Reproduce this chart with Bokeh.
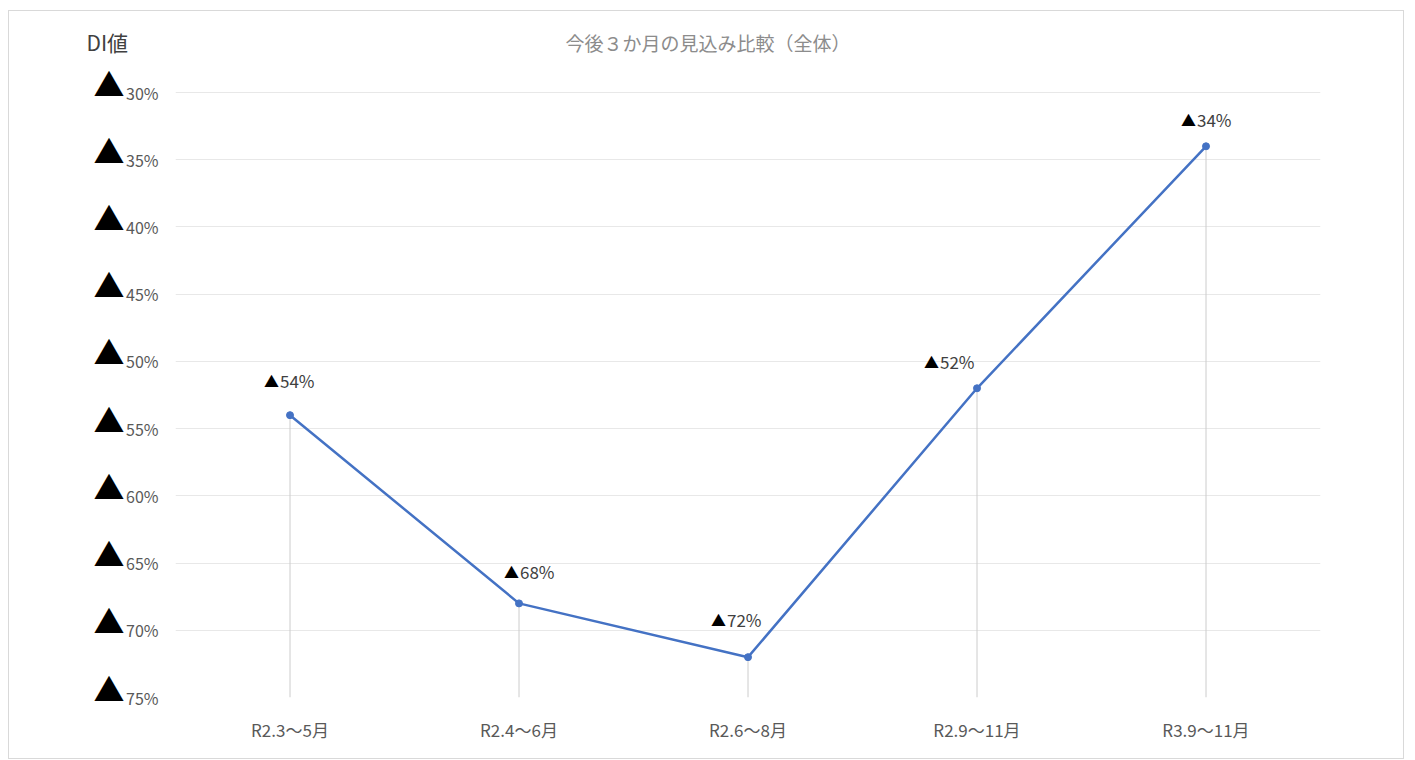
from bokeh.plotting import figure
from bokeh.models import (ColumnDataSource, FactorRange, Range1d, FixedTicker,
                          LinearAxis, Grid, Title)
from bokeh.embed import file_html
from bokeh.resources import INLINE
from bokeh.core.properties import value

# ---------------- data ----------------
categories = ["R2.3～5月", "R2.4～6月", "R2.6～8月", "R2.9～11月", "R3.9～11月"]
di_values = [-54, -68, -72, -52, -34]          # ▲ = negative DI
y_ticks = [-30, -35, -40, -45, -50, -55, -60, -65, -70, -75]
y_tick_labels = ["30%", "35%", "40%", "45%", "50%", "55%", "60%", "65%", "70%", "75%"]
chart_title = "今後３か月の見込み比較（全体）"
y_title = "DI値"
y_min, y_max = -75, -30

# ---------------- layout helpers (pixels / axis units) ----------------
PX_PER_UNIT = 605 / (y_max - y_min)       # ~13.44 px per axis unit
TOP_PAD_UNITS = 51 / PX_PER_UNIT          # frame extends above the 30% line
TRI_SHIFT_UNITS = 10.5 / PX_PER_UNIT      # triangles sit a little above their gridline

# label nudges in pixels (manual placement as in the original)
label_dx = [1, 12, -10, -26, 2]
label_dy = [35, 32, 38, 27, 27]

FONT = "Noto Sans CJK JP"

src = ColumnDataSource(dict(
    cat=categories,
    val=di_values,
    num_text=[f"{abs(v)}%" for v in di_values],
    tri_text=["▲"] * len(di_values),
    tdx=[d - 12 for d in label_dx],
    ndx=[d - 11 for d in label_dx],
    dy=[-d for d in label_dy],
))

p = figure(width=1396, height=749,
           x_range=FactorRange(*categories),
           y_range=Range1d(y_min, y_max + TOP_PAD_UNITS),
           y_axis_type=None,
           output_backend="svg", toolbar_location=None,
           min_border_left=166, min_border_right=85,
           min_border_top=30, min_border_bottom=63)
p.styles = {"margin-left": "8px", "margin-top": "10px", "border": "1px solid #d9d9d9"}
p.outline_line_color = None
p.background_fill_color = "white"
p.border_fill_color = "white"
p.xgrid.visible = False
p.extra_y_ranges = {"tri": Range1d(y_min - TRI_SHIFT_UNITS,
                                   y_max + TOP_PAD_UNITS - TRI_SHIFT_UNITS)}

# titles: "DI値" (outer panel) and chart title (inner panel), both on one line
p.title = Title(text=y_title, align="left", offset=-89, standoff=-32,
                vertical_align="bottom",
                text_font=FONT, text_font_size="21px", text_font_style="normal",
                text_color="#404040")
p.add_layout(Title(text=chart_title, align="left", offset=390, standoff=-28,
                   vertical_align="bottom",
                   text_font=FONT, text_font_size="19px", text_font_style="normal",
                   text_color="#8c8c8c"), "above")

# horizontal gridlines
grid = Grid(dimension=1, ticker=FixedTicker(ticks=y_ticks),
            grid_line_color="#e8e8e8", grid_line_width=1)
p.add_layout(grid)

# y axis: percentage text (inner) and black triangles (outer)
ax_pct = LinearAxis(ticker=FixedTicker(ticks=y_ticks),
                    major_label_overrides={t: l for t, l in zip(y_ticks, y_tick_labels)},
                    axis_line_color=None, major_tick_line_color=None,
                    minor_tick_line_color=None,
                    major_label_standoff=11,
                    major_label_text_font=FONT,
                    major_label_text_font_size="16px",
                    major_label_text_color="#595959")
ax_tri = LinearAxis(y_range_name="tri",
                    ticker=FixedTicker(ticks=y_ticks),
                    major_label_overrides={t: "▲" for t in y_ticks},
                    axis_line_color=None, major_tick_line_color=None,
                    minor_tick_line_color=None,
                    major_label_standoff=-7,
                    major_label_text_font=FONT,
                    major_label_text_font_size="31px",
                    major_label_text_color="black")
p.add_layout(ax_pct, "left")
p.add_layout(ax_tri, "left")

# x axis
xa = p.xaxis[0]
xa.axis_line_color = None
xa.major_tick_line_color = None
xa.minor_tick_line_color = None
xa.major_label_standoff = 13
xa.major_label_text_font = FONT
xa.major_label_text_font_size = "17px"
xa.major_label_text_color = "#595959"

# drop lines
p.segment(x0="cat", y0="val", x1="cat", y1=y_min, source=src,
          line_color="#cccccc", line_width=1)
# series line and markers
p.line(x="cat", y="val", source=src, line_color="#4472c4", line_width=2.5)
p.scatter(x="cat", y="val", source=src, size=7,
          fill_color="#4472c4", line_color="#4472c4")

# data labels
p.text(x="cat", y="val", text="tri_text", source=src,
       x_offset="tdx", y_offset="dy",
       text_align="right", text_baseline="middle",
       text_font=value(FONT), text_font_size="15px", text_color="black")
p.text(x="cat", y="val", text="num_text", source=src,
       x_offset="ndx", y_offset="dy",
       text_align="left", text_baseline="middle",
       text_font=value(FONT), text_font_size="17px", text_color="#404040")

open("out.html", "w").write(file_html(p, INLINE))
